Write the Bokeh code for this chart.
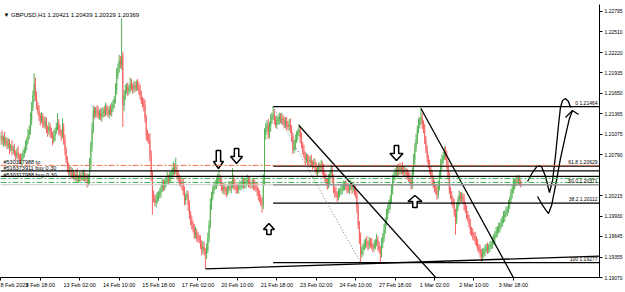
from bokeh.plotting import figure
from bokeh.models import Range1d, FixedTicker, Label, Span
from bokeh.embed import file_html
from bokeh.resources import INLINE

# ---------------- data (H1 bars, prices as pips above 1.19000) ----------------
BASE = 1.19
first_open = 200
closes = [
    205, 198, 202, 196, 199, 192, 195, 188, 191, 185,
    187, 181, 178, 182, 176, 174, 171, 176, 180, 186,
    192, 198, 206, 214, 228, 245, 262, 278, 262, 248,
    240, 233, 228, 232, 224, 220, 226, 216, 212, 218,
    210, 207, 200, 205, 212, 218, 224, 214, 210, 207,
    218, 200, 186, 172, 160, 155, 158, 150, 153, 151,
    148, 152, 145, 146, 150, 147, 149, 152, 146, 148,
    140, 145, 165, 190, 214, 240, 236, 241, 238, 234,
    237, 232, 236, 240, 238, 244, 241, 236, 242, 239,
    244, 250, 256, 270, 290, 300, 311, 305, 318, 248,
    262, 269, 274, 268, 272, 278, 274, 271, 276, 273,
    278, 276, 268, 262, 255, 252, 248, 230, 207, 204,
    200, 178, 151, 123, 118, 112, 116, 120, 123, 126,
    132, 137, 134, 140, 143, 146, 144, 148, 151, 155,
    161, 157, 158, 150, 146, 142, 139, 137, 128, 116,
    120, 123, 108, 95, 88, 81, 75, 67, 70, 64,
    62, 60, 54, 46, 50, 43, 40, 46, 62, 81,
    109, 120, 130, 135, 138, 140, 144, 146, 140, 135,
    130, 133, 128, 127, 131, 134, 132, 137, 146, 138,
    134, 131, 130, 134, 136, 137, 140, 137, 139, 141,
    144, 140, 138, 137, 140, 136, 134, 133, 128, 123,
    118, 112, 109, 144, 207, 215, 221, 207, 218, 228,
    232, 235, 228, 221, 226, 229, 232, 228, 230, 225,
    222, 226, 221, 218, 222, 214, 205, 186, 192, 200,
    206, 210, 214, 203, 193, 185, 178, 172, 175, 170,
    169, 172, 167, 165, 168, 160, 155, 158, 162, 160,
    165, 158, 151, 146, 142, 137, 145, 152, 158, 145,
    130, 126, 123, 120, 125, 128, 130, 133, 135, 137,
    134, 132, 130, 134, 136, 131, 133, 128, 123, 105,
    81, 62, 40, 45, 50, 53, 57, 54, 52, 57,
    55, 51, 49, 53, 56, 60, 52, 46, 40, 55,
    62, 74, 85, 95, 102, 108, 116, 130, 144, 150,
    154, 158, 155, 161, 157, 160, 158, 154, 156, 152,
    151, 146, 142, 137, 155, 172, 188, 200, 214, 222,
    226, 230, 222, 214, 200, 186, 175, 165, 158, 150,
    145, 137, 132, 128, 123, 135, 150, 165, 172, 178,
    186, 176, 165, 148, 130, 122, 115, 109, 98, 88,
    105, 115, 123, 118, 120, 116, 108, 102, 95, 90,
    82, 74, 70, 66, 63, 60, 55, 50, 46, 42,
    36, 40, 44, 47, 49, 46, 50, 52, 53, 58,
    62, 67, 70, 74, 77, 80, 84, 88, 92, 96,
    99, 102, 110, 116, 124, 130, 137, 140, 144, 142,
    146, 142.1, 136.9,
]
upper_wick = [
    6, 8, 4, 9, 5, 4, 7, 6, 3, 8, 5, 7, 4, 6, 9, 4, 7, 5, 6, 4,
    7, 5, 9, 6, 10, 8, 7, 15, 9, 6, 5, 8, 4, 7, 5, 9, 6, 5, 4, 7,
    5, 7, 4, 9, 5, 6, 13, 5, 7, 4, 12, 5, 7, 4, 5, 8, 6, 4, 7, 5,
    4, 6, 8, 4, 5, 4, 7, 6, 4, 5, 5, 7, 9, 7, 10, 8, 6, 5, 7, 9,
    5, 7, 9, 5, 7, 8, 5, 6, 5, 7, 8, 6, 5, 9, 10, 7, 8, 6, 52, 5,
    7, 8, 5, 6, 5, 9, 7, 5, 6, 5, 5, 7, 5, 9, 7, 5, 6, 8, 5, 7,
    5, 9, 7, 5, 6, 5, 8, 7, 5, 6, 5, 8, 7, 5, 6, 9, 5, 7, 5, 6,
    8, 6, 17, 5, 7, 5, 6, 5, 8, 7, 5, 6, 5, 7, 5, 6, 5, 7, 8, 5,
    7, 5, 6, 5, 8, 7, 5, 9, 8, 6, 9, 7, 5, 6, 5, 7, 8, 12, 5, 7,
    5, 7, 5, 6, 5, 8, 7, 5, 14, 5, 7, 5, 6, 5, 7, 5, 8, 5, 6, 5,
    7, 5, 8, 4, 6, 5, 8, 5, 7, 5, 6, 5, 7, 8, 9, 8, 6, 8, 7, 8,
    6, 12, 7, 5, 8, 4, 6, 5, 8, 5, 7, 5, 6, 5, 7, 8, 6, 5, 8, 7,
    6, 5, 8, 5, 7, 4, 8, 5, 6, 5, 8, 5, 7, 4, 6, 5, 8, 5, 7, 5,
    7, 5, 8, 5, 6, 4, 7, 5, 7, 5, 6, 5, 8, 5, 7, 4, 6, 5, 8, 5,
    6, 5, 7, 4, 8, 5, 6, 5, 7, 5, 6, 5, 8, 6, 5, 7, 5, 8, 5, 7,
    5, 7, 4, 6, 5, 8, 5, 6, 5, 8, 7, 8, 6, 8, 7, 8, 6, 8, 7, 5,
    6, 5, 8, 5, 7, 5, 9, 5, 6, 4, 7, 5, 8, 5, 6, 8, 7, 8, 6, 8,
    6, 15, 7, 5, 8, 5, 6, 4, 7, 5, 8, 5, 6, 5, 7, 8, 6, 8, 7, 5,
    4, 5, 8, 5, 7, 4, 6, 5, 8, 5, 7, 5, 6, 4, 7, 5, 8, 5, 6, 5,
    5, 7, 4, 6, 5, 8, 5, 6, 4, 7, 5, 8, 5, 6, 5, 7, 4, 6, 5, 6,
    6, 5, 8, 5, 7, 4, 6, 5, 8, 5, 7, 5, 6, 4, 7, 5, 8, 5, 6, 5,
    5, 4, 1.8,
]
lower_wick = [
    7, 5, 8, 4, 6, 5, 5, 8, 4, 7, 5, 4, 7, 5, 4, 8, 5, 7, 4, 5,
    5, 7, 4, 5, 7, 8, 5, 9, 8, 6, 5, 7, 8, 5, 7, 4, 5, 7, 8, 5,
    7, 5, 8, 5, 7, 4, 5, 7, 5, 8, 5, 7, 8, 5, 6, 5, 7, 5, 4, 7,
    5, 7, 4, 5, 6, 5, 4, 7, 5, 4, 7, 5, 7, 8, 7, 5, 6, 5, 7, 5,
    6, 5, 7, 5, 6, 5, 7, 5, 6, 5, 7, 5, 6, 5, 7, 5, 6, 5, 7, 30,
    8, 6, 5, 7, 5, 6, 5, 7, 5, 6, 5, 7, 5, 6, 5, 7, 8, 6, 8, 7,
    6, 8, 9, 28, 6, 5, 7, 5, 6, 5, 7, 5, 6, 5, 7, 5, 6, 5, 7, 5,
    5, 7, 5, 6, 5, 7, 5, 8, 6, 8, 7, 5, 8, 6, 8, 7, 5, 6, 5, 7,
    6, 5, 7, 8, 6, 5, 21, 7, 5, 6, 5, 7, 5, 6, 5, 7, 5, 6, 5, 7,
    5, 7, 5, 8, 5, 6, 4, 7, 5, 8, 5, 7, 5, 6, 4, 7, 5, 6, 5, 7,
    5, 7, 5, 6, 5, 7, 5, 6, 7, 8, 6, 5, 11, 6, 8, 7, 5, 6, 5, 7,
    6, 5, 7, 4, 6, 5, 8, 5, 7, 5, 6, 5, 7, 4, 6, 5, 8, 6, 5, 7,
    5, 7, 5, 8, 5, 6, 4, 7, 5, 6, 5, 8, 5, 7, 5, 6, 4, 7, 5, 6,
    5, 7, 5, 6, 4, 7, 5, 8, 5, 6, 5, 7, 5, 7, 5, 6, 5, 7, 5, 6,
    5, 7, 5, 6, 5, 7, 5, 6, 5, 8, 6, 8, 12, 5, 7, 5, 6, 5, 7, 5,
    6, 5, 7, 5, 6, 5, 7, 5, 14, 5, 7, 5, 6, 5, 7, 5, 6, 5, 7, 5,
    6, 5, 7, 5, 6, 5, 7, 5, 6, 5, 7, 5, 6, 7, 6, 5, 7, 5, 6, 5,
    6, 5, 7, 5, 6, 5, 7, 5, 6, 5, 7, 5, 6, 5, 7, 5, 6, 5, 7, 5,
    6, 5, 7, 5, 6, 5, 7, 5, 6, 21, 6, 5, 7, 5, 6, 5, 7, 5, 6, 5,
    5, 7, 5, 6, 5, 7, 5, 6, 5, 7, 7, 6, 5, 7, 5, 6, 5, 7, 5, 6,
    5, 7, 5, 6, 5, 7, 5, 6, 5, 7, 5, 6, 5, 7, 5, 6, 5, 7, 5, 6,
    5, 6, 4,
]

tick_idx = [0, 32, 64, 96, 128, 160, 192, 224, 256, 288, 320, 352, 384, 416]
tick_labels = ["8 Feb 2023", "9 Feb 18:00", "13 Feb 02:00", "14 Feb 10:00",
               "15 Feb 18:00", "17 Feb 02:00", "20 Feb 10:00", "21 Feb 18:00",
               "23 Feb 02:00", "24 Feb 10:00", "27 Feb 18:00", "1 Mar 02:00",
               "2 Mar 10:00", "3 Mar 18:00"]
price_ticks = [1.19070, 1.19355, 1.19645, 1.19930, 1.20215, 1.20790, 1.21075,
               1.21365, 1.21650, 1.21935, 1.22220, 1.22510, 1.22795]

# user horizontal lines / orders
hlines = [1.20563, 1.20487]
tp_level = 1.20640
buy_levels = [1.20457, 1.20401]
bid = 1.20369

# Fibonacci retracement
fib_start_bar = 221
fib_levels = [1.21464, 1.20629, 1.20371, 1.20112, 1.19277]
fib_names = ["0", "61.8", "50.0", "38.2", "100"]
fib_anchor_bars = [221, 292]

# trend lines (bar index, price)
trend_x = [[242, 365.3], [341, 426.1], [166, 486]]
trend_y = [[1.21199, 1.18833], [1.21437, 1.18749], [1.19190, 1.19370]]

# hand drawn projection curves
curve_x = [[427.5, 431.5, 435.6, 438.8, 442.1, 445.3, 447.8, 450.2, 452.6, 454.2, 455.9, 458.3, 460.7, 462.4],
           [435.6, 438.8, 442.1, 444.5, 447.0, 450.2, 454.2, 458.3, 461.5, 464.0],
           [458.3, 464.0, 468.9]]
curve_y = [[1.20414, 1.20540, 1.20638, 1.20624, 1.20484, 1.20260, 1.20428, 1.20778, 1.21199, 1.21451, 1.21549, 1.21577, 1.21535, 1.21451],
           [1.20204, 1.20106, 1.20022, 1.19966, 1.20078, 1.20358, 1.20736, 1.21058, 1.21297, 1.21409],
           [1.21311, 1.21409, 1.21353]]

# arrow objects: bar index, price of tip, direction, head width px, height px
arrow_bar = [176.6, 191.3, 321.1, 217.6, 336.1]
arrow_price = [1.20596, 1.20666, 1.20708, 1.19826, 1.20218]
arrow_dir = [-1, -1, -1, 1, 1]
arrow_w = [10, 12, 13, 11, 14]
arrow_h = [18, 15, 15, 11, 12]

# ---------------- build ----------------
n = len(closes)
opens = [first_open] + closes[:-1]
idx = list(range(n))
o = [BASE + v / 10000 for v in opens]
c = [BASE + v / 10000 for v in closes]
hi = [BASE + (max(a, b) + w) / 10000 for a, b, w in zip(opens, closes, upper_wick)]
lo = [BASE + (min(a, b) - w) / 10000 for a, b, w in zip(opens, closes, lower_wick)]
top = [max(a, b) for a, b in zip(o, c)]
bot = [min(a, b) for a, b in zip(o, c)]
col = ["#55b455" if b >= a else "#f76060" for a, b in zip(o, c)]

X0, X1 = -0.3, 485.9
Y0, Y1 = 1.19070, 1.22893
p = figure(width=625, height=292, output_backend="svg", toolbar_location=None,
           x_range=Range1d(X0, X1), y_range=Range1d(Y0, Y1),
           y_axis_location="right", min_border_left=0, min_border_right=26,
           min_border_top=4, min_border_bottom=15)
p.xgrid.visible = False
p.ygrid.visible = False
p.outline_line_color = None
p.background_fill_color = "white"
p.border_fill_color = "white"

FONT = "Liberation Sans"
ax = p.xaxis[0]
ax.ticker = FixedTicker(ticks=tick_idx)
ax.major_label_overrides = {t: l for t, l in zip(tick_idx, tick_labels)}
ax.major_label_text_font = FONT
ax.major_label_text_font_size = "5.5px"
ax.major_label_text_color = "black"
ax.major_label_text_align = "left"
ax.major_tick_out = 3
ax.major_tick_in = 0
ax.minor_tick_line_color = None
ax.axis_line_color = "black"
ax.major_label_standoff = 1

ay = p.yaxis[0]
ay.ticker = FixedTicker(ticks=price_ticks)
ay.major_label_overrides = {t: "%.5f" % t for t in price_ticks}
ay.major_label_text_font = FONT
ay.major_label_text_font_size = "5px"
ay.major_label_text_color = "black"
ay.major_tick_out = 3
ay.major_tick_in = 0
ay.minor_tick_line_color = None
ay.axis_line_color = "black"
ay.major_label_standoff = 2

# candles
p.segment(x0=idx, y0=lo, x1=idx, y1=hi, line_color=col, line_width=1)
p.vbar(x=idx, top=top, bottom=bot, width=0.75, fill_color=col, line_color=None)

# order / level lines
p.add_layout(Span(location=tp_level, dimension="width", line_color="#f07050",
                  line_dash="6 2 2 2", line_width=1))
for lv in buy_levels:
    p.add_layout(Span(location=lv, dimension="width", line_color="#4caf50",
                      line_dash="6 2 2 2", line_width=1))
p.add_layout(Span(location=bid, dimension="width", line_color="#c8c8c8", line_width=1))
for lv in hlines:
    p.add_layout(Span(location=lv, dimension="width", line_color="black", line_width=1.2))

# fibonacci
p.segment(x0=[fib_start_bar] * len(fib_levels), y0=fib_levels,
          x1=[X1 + 5] * len(fib_levels), y1=fib_levels, line_color="black", line_width=1.2)
p.line(x=fib_anchor_bars, y=[fib_levels[0], fib_levels[-1]], line_color="#777777",
       line_dash="1 2", line_width=1)
for nm, lv in zip(fib_names, fib_levels):
    p.add_layout(Label(x=597, y=lv, x_units="screen", text="%s %.5f" % (nm, lv),
                       text_font=FONT, text_font_size="5px", text_align="right",
                       text_baseline="bottom", text_color="black", y_offset=1))

# trend lines and drawings
p.multi_line(xs=trend_x, ys=trend_y, line_color="black", line_width=1.3)
p.multi_line(xs=curve_x, ys=curve_y, line_color="black", line_width=1.3)

# arrows
PXX = (X1 - X0) / 599.0
PXY = (Y1 - Y0) / 273.0
axs, ays = [], []
for b, pr, d, w, h in zip(arrow_bar, arrow_price, arrow_dir, arrow_w, arrow_h):
    hh = 7 if h > 12 else 6
    shape = [(-2.2, h), (2.2, h), (2.2, hh), (w / 2, hh), (0, 0), (-w / 2, hh), (-2.2, hh)]
    axs.append([b + sx * PXX for sx, sy in shape])
    ays.append([pr - d * sy * PXY for sx, sy in shape])
p.patches(xs=axs, ys=ays, fill_color="white", line_color="black", line_width=1.5)

# order labels
order_texts = ["#530317988 tp", "#516373911 buy 0.30", "#530317988 buy 0.30"]
order_prices = [tp_level, hlines[0], buy_levels[0]]
for t, lv in zip(order_texts, order_prices):
    p.add_layout(Label(x=3, y=lv, x_units="screen", text=t, text_font=FONT,
                       text_font_size="5.5px", text_baseline="bottom", text_color="black"))

# title
p.add_layout(Label(x=3, y=263, x_units="screen", y_units="screen",
                   text="\u25bc GBPUSD,H1  1.20421 1.20439 1.20329 1.20369",
                   text_font=FONT, text_font_size="6px", text_color="black",
                   text_baseline="middle"))

# price boxes on the axis
for lv in [1.20563, 1.20487, 1.20369]:
    p.add_layout(Label(x=600, y=lv, x_units="screen", text="%.5f" % lv,
                       text_font=FONT, text_font_size="5px", text_color="white",
                       text_baseline="middle", background_fill_color="black"))

open("out.html", "w").write(file_html(p, INLINE))
